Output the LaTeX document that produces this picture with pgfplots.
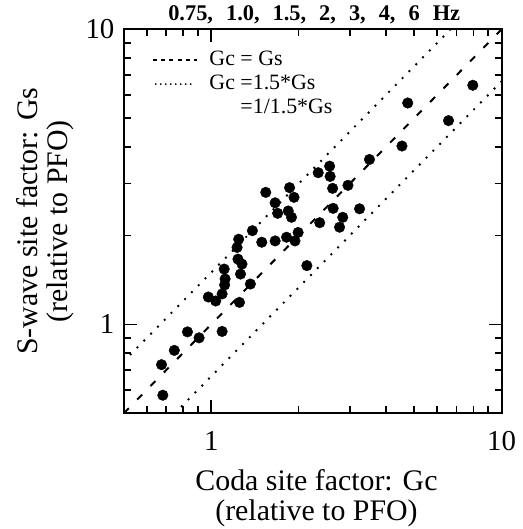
\documentclass[border=0pt]{standalone}
\usepackage{fontspec}
\setmainfont{Liberation Serif}
\usepackage{pgfplots}
\pgfplotsset{compat=1.18}
\begin{document}
\begin{tikzpicture}
\begin{axis}[name=ax,
  xmode=log, ymode=log,
  xmin=0.5, xmax=10, ymin=0.5, ymax=10,
  width=378bp, height=384bp, scale only axis,
  xtick={1,10}, xticklabels={1,10},
  ytick={1,10}, yticklabels={1,10},
  minor xtick={0.6,0.7,0.8,0.9,2,3,4,5,6,7,8,9},
  minor ytick={0.6,0.7,0.8,0.9,2,3,4,5,6,7,8,9},
  tick align=inside,
  major tick length=13bp, minor tick length=7bp,
  every tick/.style={black, line width=1.6bp},
  axis line style={line width=2bp},
  every tick label/.append style={font=\fontsize{29}{30}\selectfont},
  xticklabel style={yshift=-15bp},
  yticklabel style={xshift=-6bp},
  label style={font=\fontsize{30}{30}\selectfont, align=center},
  xlabel={Coda site factor: Gc\\(relative to PFO)},
  ylabel={S-wave site factor: Gs\\(relative to PFO)},
  xlabel style={at={(axis description cs:0.51,-0.222)}, anchor=center},
  ylabel style={at={(axis description cs:-0.209,0.5)}, anchor=center},
  title={0.75,\hspace{13bp}1.0,\hspace{13bp}1.5,\hspace{13bp}2,\hspace{13bp}3,\hspace{13bp}4,\hspace{13bp}6\hspace{13bp}Hz},
  every axis title/.style={at={(axis description cs:0.504,1.0225)}, anchor=base, inner sep=0pt, font=\fontsize{22.5}{24}\selectfont\bfseries},
  legend style={at={(axis description cs:0.074,0.948)}, anchor=north west, draw=none, fill=none, inner sep=0pt,
    font=\fontsize{22}{24}\selectfont, nodes={inner sep=0pt, text height=16bp, text depth=5bp}, row sep=3bp,
    /tikz/every odd column/.append style={column sep=12bp}},
  legend cell align=left,
]
\addlegendimage{legend image code/.code={\draw[black, line width=1.5bp, dash pattern=on 4bp off 4.3bp] (0bp,0bp) -- (44bp,0bp);}}
\addlegendentry{Gc = Gs}
\addlegendimage{legend image code/.code={\draw[black, line width=2bp, line cap=round, dash pattern=on 0bp off 5bp] (3bp,0bp) -- (38bp,0bp);}}
\addlegendentry{Gc =1.5*Gs}
\addlegendimage{empty legend}
\addlegendentry{\phantom{Gc}\ =1/1.5*Gs}

\addplot[forget plot, black, line width=2bp, dash pattern=on 7bp off 12bp] coordinates {(0.5,0.5) (10,10)};
\addplot[forget plot, black, line width=2.7bp, line cap=round, dash pattern=on 0bp off 9.7bp] coordinates {(0.5,0.75) (6.667,10)};
\addplot[forget plot, black, line width=2.7bp, line cap=round, dash pattern=on 0bp off 9.7bp] coordinates {(0.75,0.5) (10,6.667)};

\addplot[forget plot, only marks, mark=*, mark size=5.3bp, black] coordinates {
(0.681,0.575) (0.674,0.730) (0.746,0.816) (0.828,0.943) (0.908,0.900) (1.090,0.946)
(0.977,1.238) (1.036,1.200) (1.090,1.268) (1.112,1.360) (1.116,1.425) (1.108,1.540)
(1.251,1.187) (1.261,1.481) (1.276,1.601) (1.236,1.664) (1.227,1.823) (1.243,1.944)
(1.364,1.370) (1.386,2.078) (1.493,1.899) (1.541,2.803) (1.660,1.919) (1.660,2.583)
(1.693,2.380) (1.842,2.423) (1.890,2.307) (1.817,1.975) (1.943,1.919) (1.992,2.049)
(1.861,2.908) (1.928,2.696) (2.135,1.582) (2.364,2.211) (2.336,3.268) (2.557,3.440)
(2.568,3.175) (2.619,2.892) (2.630,2.474) (2.838,2.307) (2.767,2.135) (2.958,2.961)
(3.243,2.465) (3.508,3.624) (4.539,4.025) (4.752,5.632) (6.567,4.908) (7.962,6.469)
};
\end{axis}
\pgfresetboundingbox
\useasboundingbox ([xshift=-124bp,yshift=-116bp]ax.south west) rectangle ([xshift=21bp,yshift=29.5bp]ax.north east);
\end{tikzpicture}
\end{document}
